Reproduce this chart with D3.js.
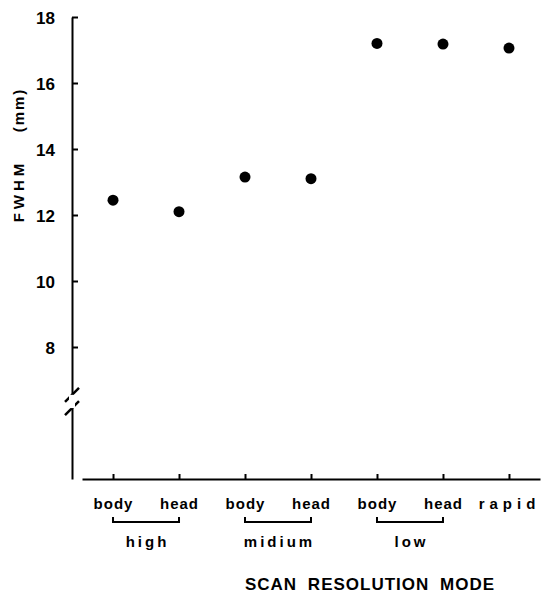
<!DOCTYPE html>
<html>
<head>
<meta charset="utf-8">
<script src="https://cdn.jsdelivr.net/npm/d3@7"></script>
<style>
  body { margin: 0; background: #fff; }
  svg text { font-family: "Liberation Sans", Arial, sans-serif; font-weight: bold; fill: #000; }
</style>
</head>
<body>
<script>
// data
let modes = ["high-body", "high-head", "mid-body", "mid-head", "low-body", "low-head", "rapid"];
let modeLabels = ["body", "head", "body", "head", "body", "head", "rapid"];
let fwhm = [12.45, 12.1, 13.15, 13.1, 17.2, 17.18, 17.06];
let groups = ["high", "midium", "low"];
let groupStart = ["high-body", "mid-body", "low-body"];
let groupEnd = ["high-head", "mid-head", "low-head"];
let yTicks = [8, 10, 12, 14, 16, 18];

let w = 542;
let h = 593;

let svg = d3.select("body")
  .append("svg")
  .attr("width", w)
  .attr("height", h);

let xScale = d3.scalePoint()
  .domain(modes)
  .range([82, 540])
  .padding(0.47);

let yScale = d3.scaleLinear()
  .domain([4, 18])
  .range([479, 17]);

let yAxis = d3.axisLeft(yScale)
  .tickValues(yTicks)
  .tickSize(-6)
  .tickSizeOuter(0)
  .tickPadding(17)
  .tickFormat(d3.format("d"));

let gy = svg.append("g")
  .attr("transform", "translate(72,0)")
  .call(yAxis);
gy.select(".domain").attr("stroke-width", 2);
gy.selectAll(".tick line").attr("stroke-width", 2);
gy.selectAll(".tick text")
  .style("font-size", "17px")
  .attr("dy", "0.36em");

// axis break marks
[6.55, 6.15].forEach(v => {
  svg.append("line")
    .attr("x1", 65).attr("y1", yScale(v) + 7)
    .attr("x2", 79).attr("y2", yScale(v) - 7)
    .attr("stroke", "#000")
    .attr("stroke-width", 2.5);
});
svg.append("rect")
  .attr("x", 69).attr("y", yScale(6.55))
  .attr("width", 6).attr("height", yScale(6.15) - yScale(6.55))
  .attr("fill", "#fff");

let xAxis = d3.axisBottom(xScale)
  .tickSize(-5)
  .tickSizeOuter(0)
  .tickPadding(19)
  .tickFormat((d, i) => modeLabels[i]);

let gx = svg.append("g")
  .attr("transform", "translate(0,479)")
  .call(xAxis);
gx.select(".domain").attr("stroke-width", 2);
gx.selectAll(".tick line").attr("stroke-width", 2);
gx.selectAll(".tick text")
  .style("font-size", "15px")
  .style("letter-spacing", (d) => d == "rapid" ? "5px" : "1px");

// brackets under body/head pairs
svg.selectAll(".bracket")
  .data(groups)
  .enter()
  .append("path")
  .attr("class", "bracket")
  .attr("d", (d, i) => {
    let x1 = xScale(groupStart[i]), x2 = xScale(groupEnd[i]);
    return "M" + x1 + ",517V522H" + x2 + "V517";
  })
  .attr("fill", "none")
  .attr("stroke", "#000")
  .attr("stroke-width", 2);

svg.selectAll(".grp")
  .data(groups)
  .enter()
  .append("text")
  .attr("class", "grp")
  .attr("x", (d, i) => (xScale(groupStart[i]) + xScale(groupEnd[i])) / 2 + 1.5)
  .attr("y", 547)
  .attr("text-anchor", "middle")
  .style("font-size", "15px")
  .style("letter-spacing", "3px")
  .text(d => d);

svg.append("text")
  .attr("x", 370)
  .attr("y", 590)
  .attr("text-anchor", "middle")
  .style("font-size", "17px")
  .style("letter-spacing", "1px")
  .style("word-spacing", "5px")
  .text("SCAN RESOLUTION MODE");

// y title
svg.append("text")
  .attr("transform", "translate(24,191) rotate(-90)")
  .attr("text-anchor", "middle")
  .style("font-size", "15px")
  .style("letter-spacing", "4px")
  .text("FWHM");
svg.append("text")
  .attr("transform", "translate(24,110) rotate(-90)")
  .attr("text-anchor", "middle")
  .style("font-size", "15px")
  .style("letter-spacing", "2px")
  .text("(mm)");

svg.selectAll("circle")
  .data(fwhm)
  .enter()
  .append("circle")
  .attr("cx", (d, i) => xScale(modes[i]))
  .attr("cy", d => yScale(d))
  .attr("r", 5.5)
  .attr("fill", "#000");
</script>
</body>
</html>
